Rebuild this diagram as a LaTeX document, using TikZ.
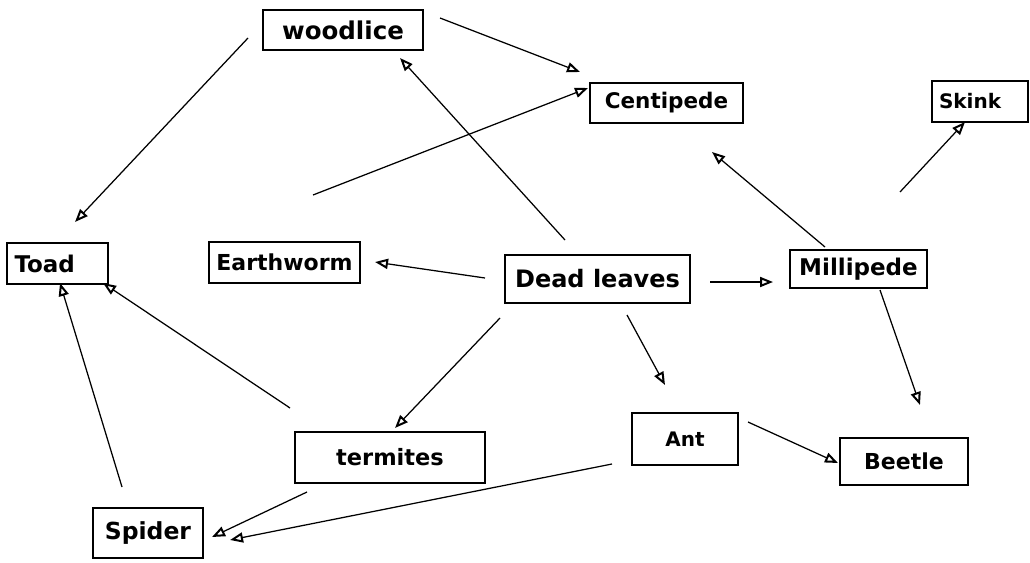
\documentclass[tikz,border=0pt]{standalone}
\usepackage{fontspec}
\setmainfont{DejaVu Sans}
\usetikzlibrary{arrows.meta}
\tikzset{
  box/.style={draw=black, line width=1.5pt, inner sep=0pt, font=\bfseries\fontsize{22}{24}\selectfont},
  fsz/.style={font=\bfseries\fontsize{#1}{#1}\selectfont},
  arr/.style={draw=black, line width=1.25pt, -{Triangle[open,length=13pt,width=10pt,line width=2pt]}}
}
\begin{document}
\begin{tikzpicture}[x=1pt,y=-1pt]
\useasboundingbox (0,0) rectangle (1030,562);
% boxes
\node[box, fsz=24.5, minimum width=160pt, minimum height=40pt] (wl) at (343,30) {woodlice};
\node[box, fsz=21.5, minimum width=153pt, minimum height=40pt] (cp) at (666.5,103) {Centipede};
\node[box, fsz=20, minimum width=96pt, minimum height=41pt, text width=82pt, align=left] (sk) at (980,101.5) {Skink};
\node[box, fsz=23, minimum width=101pt, minimum height=41pt, text width=86pt, align=left] (td) at (57.5,263.5) {Toad};
\node[box, fsz=22, minimum width=151pt, minimum height=41pt] (ew) at (284.5,262.5) {Earthworm};
\node[box, fsz=24, minimum width=185pt, minimum height=48pt] (dl) at (597.5,279) {Dead leaves};
\node[box, fsz=23, minimum width=137pt, minimum height=38pt] (mp) at (858.5,269) {Millipede};
\node[box, fsz=22.5, minimum width=190pt, minimum height=51pt] (tm) at (390,457.5) {termites};
\node[box, fsz=20, minimum width=106pt, minimum height=52pt] (an) at (685,439) {Ant};
\node[box, fsz=22, minimum width=128pt, minimum height=47pt] (bt) at (904,461.5) {Beetle};
\node[box, fsz=23.5, minimum width=110pt, minimum height=50pt] (sp) at (148,533) {Spider};
% connector end points (free ends, lines stop short of the boxes)
\coordinate (wl-td-a) at (248,38);   \coordinate (wl-td-b) at (75,222);
\coordinate (wl-cp-a) at (440,18);   \coordinate (wl-cp-b) at (580,72);
\coordinate (dl-wl-a) at (565,240);  \coordinate (dl-wl-b) at (400,58);
\coordinate (ew-cp-a) at (313,195);  \coordinate (ew-cp-b) at (588,88);
\coordinate (dl-ew-a) at (485,278);  \coordinate (dl-ew-b) at (375,262);
\coordinate (dl-mp-a) at (710,282);  \coordinate (dl-mp-b) at (773,282);
\coordinate (mp-cp-a) at (825,247);  \coordinate (mp-cp-b) at (712,152);
\coordinate (mp-sk-a) at (900,192);  \coordinate (mp-sk-b) at (965,122);
\coordinate (mp-bt-a) at (880,290);  \coordinate (mp-bt-b) at (920,405);
\coordinate (dl-tm-a) at (500,318);  \coordinate (dl-tm-b) at (395,428);
\coordinate (dl-an-a) at (627,315);  \coordinate (dl-an-b) at (665,385);
\coordinate (an-bt-a) at (748,422);  \coordinate (an-bt-b) at (838,463);
\coordinate (an-sp-a) at (612,464);  \coordinate (an-sp-b) at (230,540);
\coordinate (tm-sp-a) at (307,492);  \coordinate (tm-sp-b) at (212,537);
\coordinate (tm-td-a) at (290,408);  \coordinate (tm-td-b) at (103,283);
\coordinate (sp-td-a) at (122,487);  \coordinate (sp-td-b) at (60,283);
% connectors
\draw[arr] (wl-td-a) -- (wl-td-b);
\draw[arr] (wl-cp-a) -- (wl-cp-b);
\draw[arr] (dl-wl-a) -- (dl-wl-b);
\draw[arr] (ew-cp-a) -- (ew-cp-b);
\draw[arr] (dl-ew-a) -- (dl-ew-b);
\draw[arr] (dl-mp-a) -- (dl-mp-b);
\draw[arr] (mp-cp-a) -- (mp-cp-b);
\draw[arr] (mp-sk-a) -- (mp-sk-b);
\draw[arr] (mp-bt-a) -- (mp-bt-b);
\draw[arr] (dl-tm-a) -- (dl-tm-b);
\draw[arr] (dl-an-a) -- (dl-an-b);
\draw[arr] (an-bt-a) -- (an-bt-b);
\draw[arr] (an-sp-a) -- (an-sp-b);
\draw[arr] (tm-sp-a) -- (tm-sp-b);
\draw[arr] (tm-td-a) -- (tm-td-b);
\draw[arr] (sp-td-a) -- (sp-td-b);
\end{tikzpicture}
\end{document}
